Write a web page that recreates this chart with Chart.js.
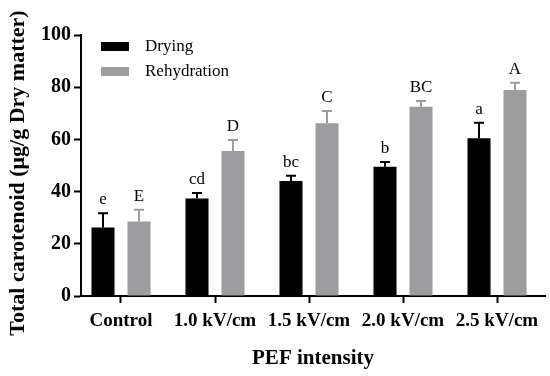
<!DOCTYPE html>
<html>
<head>
<meta charset="utf-8">
<script src="https://cdn.jsdelivr.net/npm/chart.js@4.4.1/dist/chart.umd.min.js"></script>
<style>
  html, body { margin: 0; padding: 0; background: #fff; }
  #wrap { width: 550px; height: 376px; }
</style>
</head>
<body>
<div id="wrap"><canvas id="canvas" width="550" height="376"></canvas></div>
<script>
var categories = ['Control', '1.0 kV/cm', '1.5 kV/cm', '2.0 kV/cm', '2.5 kV/cm'];
var drying = [26.2, 37.4, 44.1, 49.5, 60.4];
var dryingErr = [5.5, 2.1, 2.0, 1.8, 6.0];
var dryingLetters = ['e', 'cd', 'bc', 'b', 'a'];
var rehydration = [28.5, 55.6, 66.2, 72.5, 78.9];
var rehydrationErr = [4.5, 4.2, 4.7, 2.2, 2.8];
var rehydrationLetters = ['E', 'D', 'C', 'BC', 'A'];
var yTicks = [0, 20, 40, 60, 80, 100];
var yTitle = 'Total carotenoid (\u03bcg/g Dry matter)';

var GRAY = '#9d9d9f';
var SERIF = '"Liberation Serif", "Times New Roman", serif';

// pull the categories in a bit so the first group sits close to the y axis
var shiftPlugin = {
    id: 'shiftX',
    afterLayout: function(chart) {
        var s = chart.scales.x;
        s._startValue = -0.4255;
        s._valueRange = 4.936;
    }
};

// error bars (upward only) plus the letter above each one
var errorPlugin = {
    id: 'errors',
    afterDatasetsDraw: function(chart) {
        var ctx = chart.ctx;
        var y = chart.scales.y;
        var errs = [dryingErr, rehydrationErr];
        var letters = [dryingLetters, rehydrationLetters];
        var colors = ['#000', GRAY];
        ctx.save();
        for (var d = 0; d < 2; d++) {
            var meta = chart.getDatasetMeta(d);
            var vals = chart.data.datasets[d].data;
            meta.data.forEach(function(bar, i) {
                var top = y.getPixelForValue(vals[i] + errs[d][i]);
                ctx.strokeStyle = colors[d];
                ctx.lineWidth = 2;
                ctx.beginPath();
                ctx.moveTo(bar.x, bar.y);
                ctx.lineTo(bar.x, top);
                ctx.moveTo(bar.x - 5, top);
                ctx.lineTo(bar.x + 5, top);
                ctx.stroke();
                ctx.fillStyle = '#000';
                ctx.font = '17px ' + SERIF;
                ctx.textAlign = 'center';
                ctx.textBaseline = 'alphabetic';
                ctx.fillText(letters[d][i], bar.x, top - 9);
            });
        }
        ctx.restore();
    }
};

// legend in the top-left of the plot, and the y title (it sits lower than the plot centre)
var legendPlugin = {
    id: 'legendBox',
    afterDraw: function(chart) {
        var ctx = chart.ctx;
        var items = [['Drying', '#000', 47], ['Rehydration', GRAY, 72]];
        ctx.save();
        ctx.font = '17px ' + SERIF;
        ctx.textBaseline = 'middle';
        ctx.textAlign = 'left';
        items.forEach(function(it) {
            ctx.fillStyle = it[1];
            ctx.fillRect(101, it[2] - 5, 28, 9);
            ctx.fillStyle = '#000';
            ctx.fillText(it[0], 145, it[2]);
        });
        ctx.translate(18, 173);
        ctx.rotate(-Math.PI / 2);
        ctx.font = 'bold 22px ' + SERIF;
        ctx.textAlign = 'center';
        ctx.fillText(yTitle, 0, 0);
        ctx.restore();
    }
};

var ctx = document.getElementById('canvas').getContext('2d');
var myChart = new Chart(ctx, {
    type: 'bar',
    data: {
        labels: categories,
        datasets: [{
            label: 'Drying',
            data: drying,
            backgroundColor: '#000',
            categoryPercentage: 0.766,
            barPercentage: 0.64
        }, {
            label: 'Rehydration',
            data: rehydration,
            backgroundColor: GRAY,
            categoryPercentage: 0.766,
            barPercentage: 0.64
        }]
    },
    options: {
        responsive: false,
        animation: false,
        layout: { padding: { top: 35, right: 5, left: 0, bottom: 0 } },
        plugins: {
            legend: { display: false },
            tooltip: { enabled: false }
        },
        scales: {
            x: {
                afterFit: function(s) { s.height = 80; },
                border: { display: true, color: '#000', width: 2 },
                grid: { offset: false, drawOnChartArea: false, drawTicks: true, tickLength: 7, tickWidth: 2, tickColor: '#000' },
                ticks: {
                    color: '#000', padding: 7, maxRotation: 0, autoSkip: false,
                    font: { family: SERIF, size: 19, weight: 'bold' }
                },
                title: {
                    display: true, text: 'PEF intensity', color: '#000',
                    padding: { top: 0, bottom: 5 },
                    font: { family: SERIF, size: 21, weight: 'bold' }
                }
            },
            y: {
                min: 0,
                max: 100,
                afterFit: function(s) { s.width = 81; },
                afterBuildTicks: function(s) { s.ticks = yTicks.map(function(v) { return { value: v }; }); },
                border: { display: true, color: '#000', width: 2 },
                grid: { drawOnChartArea: false, drawTicks: true, tickLength: 7, tickWidth: 2, tickColor: '#000' },
                ticks: {
                    color: '#000', padding: 3,
                    font: { family: SERIF, size: 20, weight: 'bold' }
                }
            }
        }
    },
    plugins: [shiftPlugin, errorPlugin, legendPlugin]
});
</script>
</body>
</html>
